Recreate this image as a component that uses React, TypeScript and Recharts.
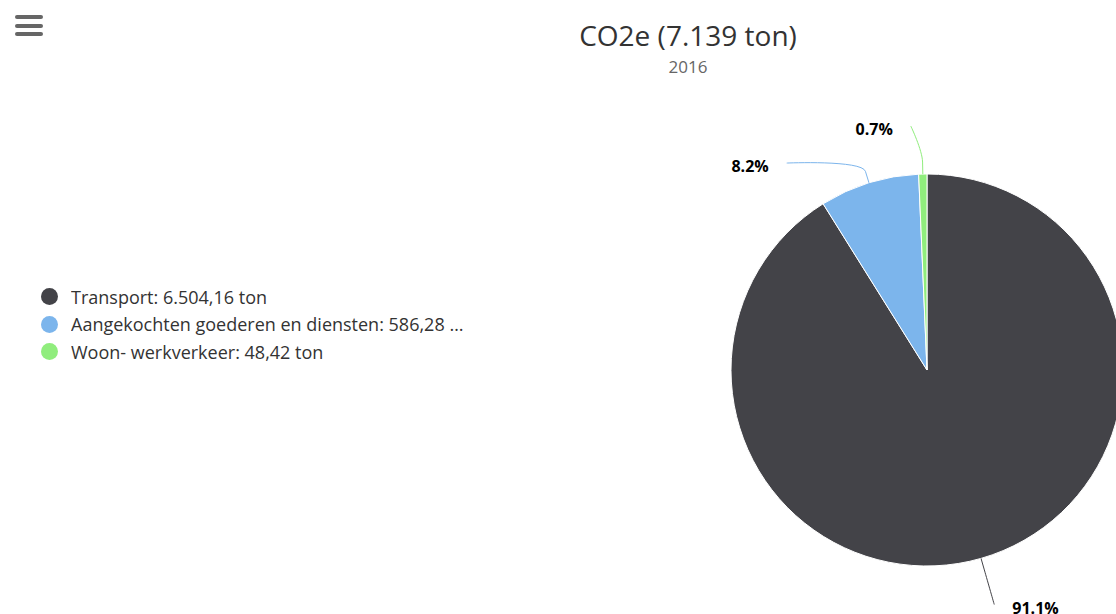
import React from 'react';
import { PieChart, Pie, Cell } from 'recharts';

const categories = ['Transport', 'Aangekochten goederen en diensten', 'Woon- werkverkeer'];
const values = [6504.16, 586.28, 48.42];
const COLORS = ['#434348', '#7cb5ec', '#90ed7d'];
const YEAR = '2016';

const FONT = '"Open Sans", "DejaVu Sans", sans-serif';
const RAD = Math.PI / 180;

const data = categories.map((name, i) => ({ name, value: values[i] }));
const total = values.reduce((a, b) => a + b, 0);

// dutch number format: 6.504,16
const fmt = (v: number, decimals: number) => {
    const [int, dec] = v.toFixed(decimals).split('.');
    const withDots = int.replace(/\B(?=(\d{3})+(?!\d))/g, '.');
    return dec ? `${withDots},${dec}` : withDots;
};

// highcharts-ish label placement: natural spot on a wider circle, then push apart on each side
const LABEL_R = 48;
const BREAK_R = 12;
const MIN_GAP = 37;
const TEXT_GAP = 18;
const LEFT_SHIFT = 11;

const labelYs = (cy: number, r: number) => {
    let cum = 0;
    const items = values.map((v, i) => {
        const mid = 90 - (360 * (cum + v / 2)) / total;
        cum += v;
        const y = cy - (r + LABEL_R) * Math.sin(mid * RAD);
        const left = Math.cos(mid * RAD) < 0;
        return { i, y, left };
    });
    const out: number[] = items.map(d => d.y);
    [true, false].forEach(side => {
        const group = items.filter(d => d.left === side).sort((a, b) => a.y - b.y);
        let prev = -Infinity;
        group.forEach(d => {
            const y = Math.max(d.y, prev + MIN_GAP);
            out[d.i] = y;
            prev = y;
        });
    });
    return out;
};

const renderLabel = (props: any) => {
    const { cx, cy, midAngle, outerRadius, percent, index } = props;
    const cosA = Math.cos(-midAngle * RAD);
    const sinA = Math.sin(-midAngle * RAD);
    const left = cosA < 0;
    const sign = left ? -1 : 1;
    const touch = { x: cx + outerRadius * cosA, y: cy + outerRadius * sinA };
    const brk = { x: cx + (outerRadius + BREAK_R) * cosA, y: cy + (outerRadius + BREAK_R) * sinA };
    const R = outerRadius + LABEL_R;
    const y = labelYs(cy, outerRadius)[index];
    const dy = Math.max(Math.min((y - cy) / R, 1), -1);
    const x = cx + sign * Math.cos(Math.asin(dy)) * R - (left ? LEFT_SHIFT : 0);
    const path = `M ${x} ${y} C ${x} ${y} ${2 * brk.x - touch.x} ${2 * brk.y - touch.y} ${brk.x} ${brk.y} L ${touch.x} ${touch.y}`;
    return (
        <g key={`lbl-${index}`}>
            <path d={path} fill="none" stroke={COLORS[index]} strokeWidth={1} />
            <text
                x={x + sign * TEXT_GAP}
                y={y + 3}
                textAnchor={left ? 'end' : 'start'}
                dominantBaseline="central"
                fontFamily={FONT}
                fontSize={16}
                fontWeight="bold"
                fill="#000"
            >
                {(percent * 100).toFixed(1)}%
            </text>
        </g>
    );
};

const MenuIcon: React.FC = () => (
    <svg width={30} height={24} style={{ position: 'absolute', left: 14, top: 14 }}>
        {[3, 12, 20].map(y => (
            <line key={y} x1={3} x2={27} y1={y} y2={y} stroke="#666" strokeWidth={4} strokeLinecap="round" />
        ))}
    </svg>
);

const App: React.FC = () => {
    return (
        <div style={{ position: 'relative', width: 1116, height: 614, overflow: 'hidden', fontFamily: FONT, background: '#fff' }}>
            <style>{'html, body { margin: 0; padding: 0; overflow: hidden; }'}</style>
            <MenuIcon />
            <div style={{ position: 'absolute', left: 388, width: 600, top: 16, textAlign: 'center', fontSize: 28, color: '#333' }}>
                CO2e ({fmt(total, 0)} ton)
            </div>
            <div style={{ position: 'absolute', left: 388, width: 600, top: 55, textAlign: 'center', fontSize: 17, color: '#666' }}>
                {YEAR}
            </div>

            <div style={{ position: 'absolute', left: 41, top: 283 }}>
                {data.map((d, i) => (
                    <div key={d.name} style={{ display: 'flex', alignItems: 'center', height: 27.5 }}>
                        <span style={{ width: 17, height: 17, flexShrink: 0, borderRadius: '50%', background: COLORS[i], display: 'inline-block', marginRight: 13 }} />
                        <span style={{ fontSize: 18, color: '#333', whiteSpace: 'nowrap', overflow: 'hidden', textOverflow: 'ellipsis', maxWidth: 398 }}>
                            {d.name}: {fmt(d.value, 2)} ton
                        </span>
                    </div>
                ))}
            </div>

            <div style={{ position: 'absolute', left: 0, top: 0 }}>
                <PieChart width={1116} height={614} margin={{ top: 0, right: 0, bottom: 0, left: 0 }}>
                    <Pie
                        data={data}
                        dataKey="value"
                        nameKey="name"
                        cx={927}
                        cy={370}
                        outerRadius={196}
                        startAngle={90}
                        endAngle={-270}
                        stroke="#fff"
                        strokeWidth={1}
                        label={renderLabel}
                        labelLine={false}
                        isAnimationActive={false}
                    >
                        {data.map((entry, index) => <Cell key={`cell-${index}`} fill={COLORS[index % COLORS.length]} />)}
                    </Pie>
                </PieChart>
            </div>
        </div>
    );
};

export default App;
